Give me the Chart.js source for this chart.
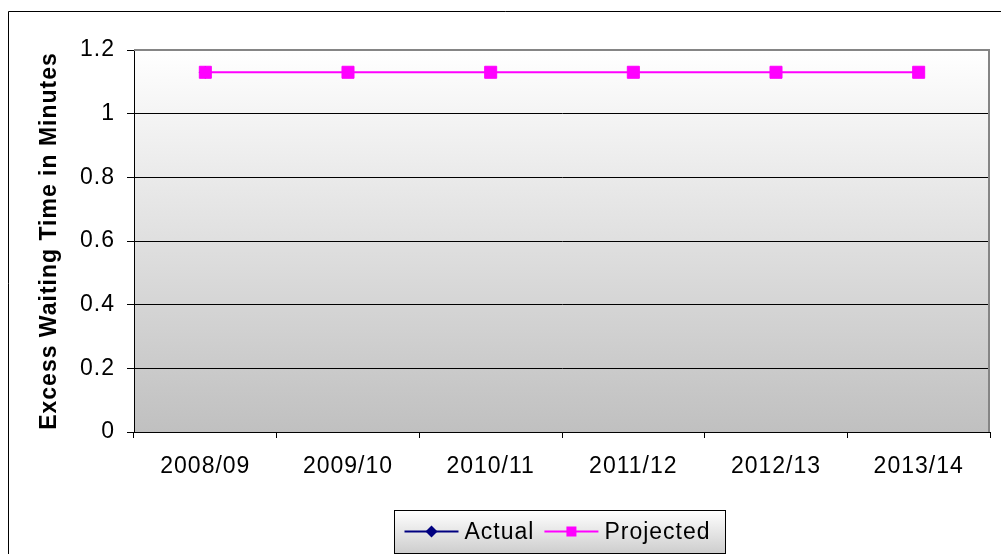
<!DOCTYPE html>
<html>
<head>
<meta charset="utf-8">
<title>Excess Waiting Time</title>
<script src="https://cdn.jsdelivr.net/npm/chart.js@4.4.1/dist/chart.umd.min.js"></script>
<style>
  html, body { margin: 0; padding: 0; background: #ffffff; }
  canvas { display: block; }
</style>
</head>
<body>
<canvas id="chart" width="1001" height="554"></canvas>
<script>
// Financial years shown on the category axis
const years = ['2008/09', '2009/10', '2010/11', '2011/12', '2012/13', '2013/14'];

// Excess waiting time (minutes)
const actualMinutes = [1.13, null, null, null, null, null];
const projectedMinutes = [1.13, 1.13, 1.13, 1.13, 1.13, 1.13];

// Value axis ticks
const yTicks = [0, 0.2, 0.4, 0.6, 0.8, 1, 1.2];

const seriesNames = ['Actual', 'Projected'];
const axisTitle = 'Excess Waiting Time in Minutes';

const FONT = '"Liberation Sans", Arial, sans-serif';
const SPACING = '1px';

// Page frame, plot backdrop and plot border
const framePlugin = {
  id: 'frame',
  beforeLayout(chart) { chart.ctx.letterSpacing = SPACING; },
  beforeDraw(chart) {
    const ctx = chart.ctx;
    const { width, height, chartArea: a } = chart;
    ctx.save();
    ctx.fillStyle = '#ffffff';
    ctx.fillRect(0, 0, width, height);
    // outer frame (runs off the right and bottom edges)
    ctx.strokeStyle = '#000000';
    ctx.lineWidth = 1;
    ctx.beginPath();
    ctx.moveTo(8.5, height + 2);
    ctx.lineTo(8.5, 11.5);
    ctx.lineTo(width + 2, 11.5);
    ctx.stroke();
    // plot backdrop: white fading to grey
    const g = ctx.createLinearGradient(0, a.top, 0, a.bottom);
    g.addColorStop(0, '#ffffff');
    g.addColorStop(1, '#c0c0c0');
    ctx.fillStyle = g;
    ctx.fillRect(a.left, a.top, a.right - a.left, a.bottom - a.top);
    ctx.restore();
    ctx.letterSpacing = SPACING;
  },
  beforeDatasetsDraw(chart) {
    const ctx = chart.ctx;
    const a = chart.chartArea;
    ctx.save();
    ctx.strokeStyle = '#858585';
    ctx.lineWidth = 2;
    ctx.beginPath();
    ctx.moveTo(a.left, a.top);
    ctx.lineTo(a.right - 1, a.top);
    ctx.lineTo(a.right - 1, a.bottom);
    ctx.stroke();
    ctx.restore();
  }
};

// Boxed legend below the axis: line + marker sample, then the series name
const legendPlugin = {
  id: 'boxLegend',
  afterDraw(chart) {
    const ctx = chart.ctx;
    const box = { x: 394.5, y: 510.5, w: 331, h: 43 };
    ctx.save();
    ctx.letterSpacing = SPACING;
    const g = ctx.createLinearGradient(0, box.y, 0, box.y + box.h);
    g.addColorStop(0, '#ffffff');
    g.addColorStop(1, '#cdcdcd');
    ctx.fillStyle = g;
    ctx.fillRect(box.x, box.y, box.w, box.h);
    ctx.strokeStyle = '#000000';
    ctx.lineWidth = 1;
    ctx.strokeRect(box.x, box.y, box.w, box.h);

    ctx.font = '23px ' + FONT;
    ctx.textBaseline = 'middle';
    ctx.textAlign = 'left';
    const cy = box.y + 21;
    let x = box.x + 10;
    chart.data.datasets.forEach((ds) => {
      const x0 = x, x1 = x + 54, mx = (x0 + x1) / 2;
      ctx.strokeStyle = ds.borderColor;
      ctx.lineWidth = 2;
      ctx.beginPath();
      ctx.moveTo(x0, cy);
      ctx.lineTo(x1, cy);
      ctx.stroke();
      ctx.fillStyle = ds.backgroundColor;
      if (ds.pointStyle === 'rectRot') {
        ctx.beginPath();
        ctx.moveTo(mx, cy - 6);
        ctx.lineTo(mx + 6, cy);
        ctx.lineTo(mx, cy + 6);
        ctx.lineTo(mx - 6, cy);
        ctx.closePath();
        ctx.fill();
      } else {
        ctx.fillRect(mx - 5, cy - 5, 10, 10);
      }
      ctx.fillStyle = '#000000';
      ctx.fillText(ds.label, x1 + 6, cy + 1);
      x = x1 + 6 + ctx.measureText(ds.label).width + 10;
    });
    ctx.restore();
  }
};

new Chart(document.getElementById('chart'), {
  type: 'line',
  data: {
    labels: years,
    datasets: [
      {
        label: seriesNames[0],
        data: actualMinutes,
        borderColor: '#000080',
        backgroundColor: '#000080',
        borderWidth: 2,
        pointStyle: 'rectRot',
        pointRadius: 6,
        pointBorderWidth: 1,
        order: 2
      },
      {
        label: seriesNames[1],
        data: projectedMinutes,
        borderColor: '#ff00ff',
        backgroundColor: '#ff00ff',
        borderWidth: 2,
        pointStyle: 'rect',
        pointRadius: 8.5,
        pointBorderWidth: 1,
        order: 1
      }
    ]
  },
  options: {
    responsive: false,
    animation: false,
    devicePixelRatio: 1,
    events: [],
    layout: { padding: { top: 50, right: 11, left: 0, bottom: 0 } },
    plugins: {
      legend: { display: false },
      tooltip: { enabled: false }
    },
    scales: {
      x: {
        offset: true,
        grid: { offset: true, drawOnChartArea: false, tickLength: 6, color: '#000000', lineWidth: 1 },
        border: { color: '#000000', width: 1 },
        ticks: { color: '#000000', font: { family: FONT, size: 23 }, padding: 15, maxRotation: 0, autoSkip: false },
        afterFit(scale) { scale.height = 122; }
      },
      y: {
        min: yTicks[0],
        max: yTicks[yTicks.length - 1],
        afterBuildTicks(scale) { scale.ticks = yTicks.map((v) => ({ value: v })); },
        grid: { color: '#000000', lineWidth: 1, tickLength: 7 },
        border: { color: '#000000', width: 1 },
        ticks: {
          color: '#000000',
          font: { family: FONT, size: 23 },
          padding: 12,
          callback: (v) => String(parseFloat(Number(v).toFixed(1)))
        },
        title: {
          display: true,
          text: axisTitle,
          color: '#000000',
          font: { family: FONT, size: 23, weight: 'bold' },
          padding: { top: 36, bottom: 0 }
        },
        afterFit(scale) { scale.width = 134; }
      }
    }
  },
  plugins: [framePlugin, legendPlugin]
});
</script>
</body>
</html>
